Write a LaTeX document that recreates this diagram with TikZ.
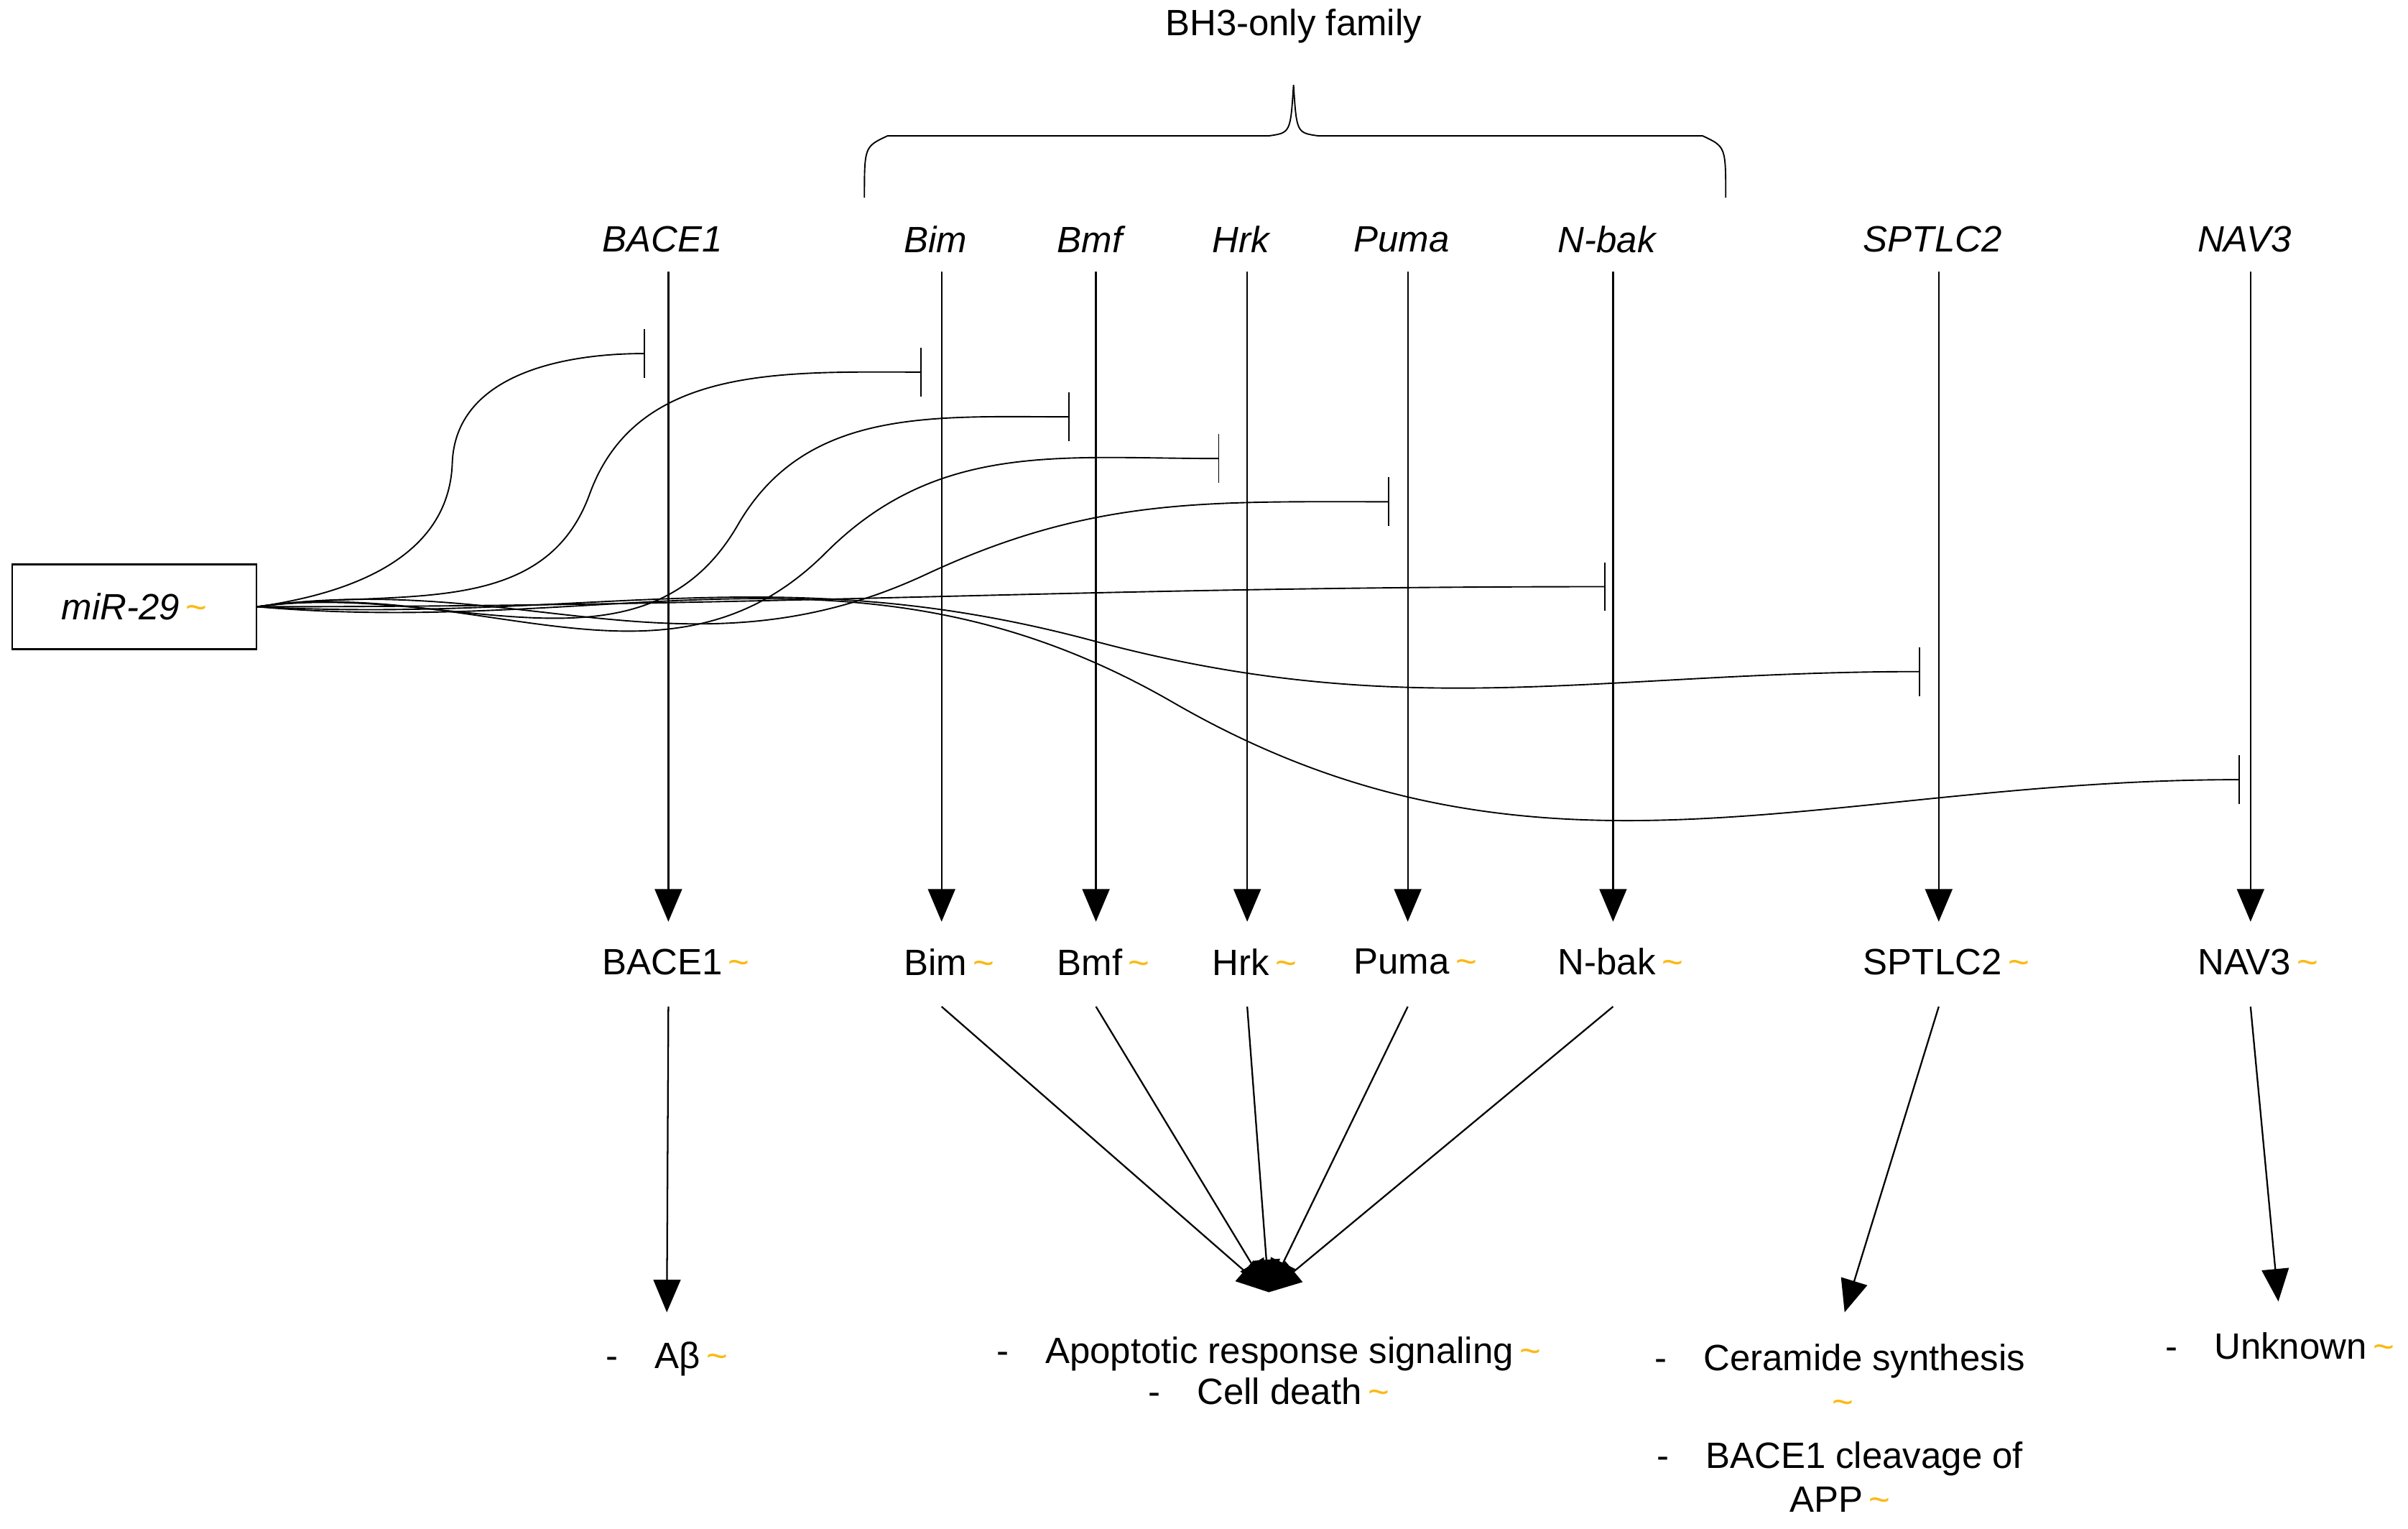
\documentclass[tikz,border=0pt]{standalone}
\usepackage{fontspec}
\setmainfont{Liberation Sans}
\usetikzlibrary{arrows.meta,positioning}
\definecolor{tildeor}{RGB}{250,185,20}
\newcommand{\wv}{\,{\color{tildeor}\textasciitilde}}
\tikzset{
  lbl/.style={inner sep=1pt, font=\fontsize{13.5}{16}\selectfont},
  gene/.style={lbl, font=\fontsize{13.5}{16}\selectfont\itshape},
  act/.style={-{Triangle[length=12pt,width=10pt]}, line width=0.6pt},
  inh/.style={-{Bar[width=18pt]}, line width=0.5pt},
}
\begin{document}
\begin{tikzpicture}[x=0.02cm,y=-0.02cm]
\useasboundingbox (0,0) rectangle (1560,990);

% family brace
\node[lbl] (fam) at (838,17) {BH3-only family};
\draw[line width=0.5pt] (560,128) .. controls (560,95) .. (575,88) -- (822,88)
  .. controls (836,86) .. (838,55) .. controls (840,86) .. (854,88) -- (1103,88)
  .. controls (1118,95) .. (1118,128);

% miRNA box
\node[lbl, draw, line width=0.6pt, minimum width=3.16cm, minimum height=1.1cm, font=\fontsize{13.5}{16}\selectfont] (mir) at (87,393) {\textit{miR-29}\wv};

% genes, transcripts
\foreach \nm/\x/\txt in {bace/433/BACE1, bim/610/Bim, bmf/710/Bmf, hrk/808/Hrk, puma/912/Puma, nbak/1045/N-bak, sptlc/1256/SPTLC2, nav/1458/NAV3}{
  \node[gene] (g\nm) at (\x-4,155) {\txt};
  \node[lbl] (p\nm) at (\x-4,623) {\phantom{\wv}\txt\wv};
  \draw[act] (\x,176) coordinate (s\nm) -- (\x,597) coordinate (e\nm);
}

% outcomes
\node[lbl] (ab) at (432,880) {-\quad Aβ\wv};
\node[lbl, align=center] (apo) at (822,888) {-\quad Apoptotic response signaling\wv\\[-1pt]-\quad Cell death\wv};
\node[lbl, align=center] (cer) at (1192,925) {-\quad Ceramide synthesis\\\wv\\[4pt]-\quad BACE1 cleavage of\\APP\wv};
\node[lbl] (unk) at (1477,872) {-\quad Unknown\wv};
\coordinate (tip) at (822,837);

\draw[act] (433,652) -- (432,850);
\foreach \nm/\x in {bim/610,bmf/710,hrk/808,puma/912,nbak/1045}
  \draw[act] (\x,652) -- (tip);
\draw[act] (1256,652) -- (1195,850);
\draw[act] (1458,652) -- (1476,843);

% inhibition
\foreach \bx/\by/\mx/\my/\ang in {418/229/293/300/88, 597/241/382/320/70, 693/270/478/340/60, 790/297/535/358/45, 900/325/600/372/25}
  \draw[inh] (mir.east) to[out=8,in=180+\ang] (\mx,\my) to[out=\ang,in=180] (\bx,\by);
\draw[inh] (mir.east) to[out=0,in=180] (1040,380);
\draw[inh] (mir.east) to[out=-3,in=165] (708,415) to[out=-15,in=180] (1244,435);
\draw[inh] (mir.east) to[out=-5,in=150] (760,455) to[out=-30,in=180] (1451,505);
\end{tikzpicture}
\end{document}
